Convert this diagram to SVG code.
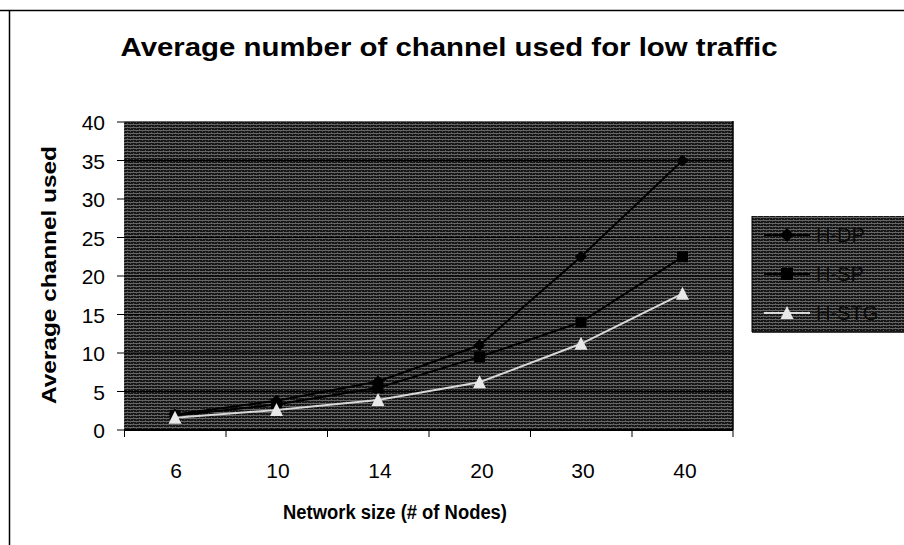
<svg xmlns="http://www.w3.org/2000/svg" width="904" height="545" viewBox="0 0 904 545">
  <defs>
    <pattern id="grain" width="6" height="3" patternUnits="userSpaceOnUse">
      <rect width="6" height="3" fill="#161616"/>
      <rect y="1" width="6" height="1" fill="#666"/>
      <rect x="1" y="0" width="1" height="1" fill="#555"/>
      <rect x="4" y="2" width="1" height="1" fill="#444"/>
    </pattern>
    <marker id="m-dp" viewBox="-6 -6 12 12" markerWidth="12" markerHeight="12" markerUnits="userSpaceOnUse">
      <path d="M0 -6 L6 0 L0 6 L-6 0 Z" fill="#000"/>
    </marker>
    <marker id="m-sp" viewBox="-6 -6 12 12" markerWidth="12" markerHeight="12" markerUnits="userSpaceOnUse">
      <rect x="-5.5" y="-5.5" width="11" height="11" fill="#000"/>
    </marker>
    <marker id="m-stg" viewBox="-7 -7 14 14" markerWidth="14" markerHeight="14" markerUnits="userSpaceOnUse">
      <path d="M0 -7 L6.5 6 L-6.5 6 Z" fill="#e8e8e8"/>
    </marker>
  </defs>
  <style>
    .t { font-family: "Liberation Sans", Arial, sans-serif; fill: #000; }
    .title { font-size: 26px; font-weight: bold; }
    .axt { font-size: 20px; font-weight: bold; }
    .tick { font-size: 21px; }
    .leg { font-size: 20px; fill: #0a0a0a; }
    .grid { stroke: #000; stroke-width: 1; }
    .tk { stroke: #000; stroke-width: 1; }
  </style>

  <rect width="904" height="545" fill="#fff"/>
  <!-- chart frame -->
  <line x1="0" y1="10.5" x2="904" y2="10.5" stroke="#000" stroke-width="1.5"/>
  <line x1="9.5" y1="10" x2="9.5" y2="545" stroke="#000" stroke-width="1.5"/>

  <text class="t title" x="449" y="56" text-anchor="middle" textLength="657" lengthAdjust="spacingAndGlyphs">Average number of channel used for low traffic</text>

  <!-- plot area -->
  <g id="plot">
    <rect x="124" y="121" width="609" height="309" fill="url(#grain)"/>
    <g class="grid">
      <line x1="124" y1="391.5" x2="733" y2="391.5"/>
      <line x1="124" y1="353" x2="733" y2="353"/>
      <line x1="124" y1="314.5" x2="733" y2="314.5"/>
      <line x1="124" y1="276" x2="733" y2="276"/>
      <line x1="124" y1="237.5" x2="733" y2="237.5"/>
      <line x1="124" y1="199" x2="733" y2="199"/>
      <line x1="124" y1="160.5" x2="733" y2="160.5"/>
    </g>
    <line x1="124" y1="430" x2="733" y2="430" stroke="#000" stroke-width="2"/>
    <line x1="733" y1="121" x2="733" y2="430" stroke="#000" stroke-width="1.5"/>
  </g>

  <!-- y axis -->
  <g id="y-axis">
    <g class="tk">
      <line x1="117" y1="430" x2="124" y2="430"/>
      <line x1="117" y1="391.5" x2="124" y2="391.5"/>
      <line x1="117" y1="353" x2="124" y2="353"/>
      <line x1="117" y1="314.5" x2="124" y2="314.5"/>
      <line x1="117" y1="276" x2="124" y2="276"/>
      <line x1="117" y1="237.5" x2="124" y2="237.5"/>
      <line x1="117" y1="199" x2="124" y2="199"/>
      <line x1="117" y1="160.5" x2="124" y2="160.5"/>
      <line x1="117" y1="122" x2="124" y2="122"/>
    </g>
    <g class="t tick" text-anchor="end">
      <text x="105" y="438">0</text>
      <text x="105" y="399.5">5</text>
      <text x="105" y="361">10</text>
      <text x="105" y="322.5">15</text>
      <text x="105" y="284">20</text>
      <text x="105" y="245.5">25</text>
      <text x="105" y="207">30</text>
      <text x="105" y="168.5">35</text>
      <text x="105" y="130">40</text>
    </g>
    <text class="t axt" transform="translate(56 275) rotate(-90)" text-anchor="middle" textLength="258" lengthAdjust="spacingAndGlyphs">Average channel used</text>
  </g>

  <!-- x axis -->
  <g id="x-axis">
    <g class="tk">
      <line x1="124.5" y1="430" x2="124.5" y2="437"/>
      <line x1="226" y1="430" x2="226" y2="437"/>
      <line x1="327.5" y1="430" x2="327.5" y2="437"/>
      <line x1="429" y1="430" x2="429" y2="437"/>
      <line x1="530.5" y1="430" x2="530.5" y2="437"/>
      <line x1="632" y1="430" x2="632" y2="437"/>
      <line x1="733" y1="430" x2="733" y2="437"/>
    </g>
    <g class="t tick" text-anchor="middle">
      <text x="176" y="478">6</text>
      <text x="278" y="478">10</text>
      <text x="380" y="478">14</text>
      <text x="482" y="478">20</text>
      <text x="583" y="478">30</text>
      <text x="685" y="478">40</text>
    </g>
    <text class="t axt" x="395" y="519" text-anchor="middle" textLength="224" lengthAdjust="spacingAndGlyphs">Network size (# of Nodes)</text>
  </g>

  <!-- data series -->
  <g id="series" fill="none">
    <polyline id="h-dp" points="175,414.6 276.5,400.7 378,381.5 479.5,345.3 581,256.8 682.5,160.5" stroke="#000" stroke-width="2" marker-start="url(#m-dp)" marker-mid="url(#m-dp)" marker-end="url(#m-dp)"/>
    <polyline id="h-sp" points="175,415.4 276.5,404.6 378,387.7 479.5,356.9 581,322.2 682.5,256.8" stroke="#000" stroke-width="2" marker-start="url(#m-sp)" marker-mid="url(#m-sp)" marker-end="url(#m-sp)"/>
    <polyline id="h-stg" points="175,417.7 276.5,410 378,400 479.5,382.3 581,343.8 682.5,293.7" stroke="#d8d8d8" stroke-width="2" marker-start="url(#m-stg)" marker-mid="url(#m-stg)" marker-end="url(#m-stg)"/>
  </g>

  <!-- legend -->
  <g id="legend">
    <rect x="752" y="216" width="152" height="116" fill="url(#grain)"/>
    <line x1="752" y1="216" x2="752" y2="332" stroke="#000" stroke-width="1"/>
    <line x1="752" y1="332" x2="904" y2="332" stroke="#000" stroke-width="1.5"/>
    <g id="leg-dp">
      <line x1="764" y1="235" x2="810" y2="235" stroke="#000" stroke-width="2"/>
      <path d="M787 228 L794 235 L787 242 L780 235 Z" fill="#000"/>
      <text class="t leg" x="816" y="242">H-DP</text>
    </g>
    <g id="leg-sp">
      <line x1="764" y1="274" x2="810" y2="274" stroke="#000" stroke-width="2"/>
      <rect x="781" y="268" width="12" height="12" fill="#000"/>
      <text class="t leg" x="816" y="281">H-SP</text>
    </g>
    <g id="leg-stg">
      <line x1="764" y1="313" x2="810" y2="313" stroke="#d8d8d8" stroke-width="2"/>
      <path d="M787 306 L793.5 319 L780.5 319 Z" fill="#e8e8e8"/>
      <text class="t leg" x="816" y="320">H-STG</text>
    </g>
  </g>
</svg>
